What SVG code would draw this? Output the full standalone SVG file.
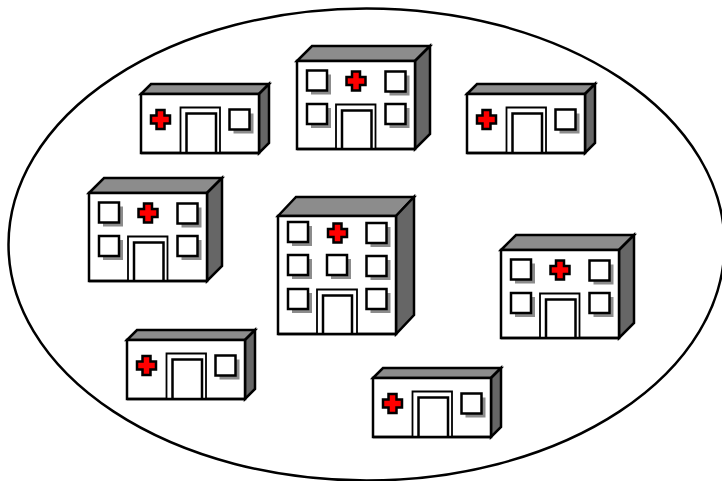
<svg xmlns="http://www.w3.org/2000/svg" xmlns:xlink="http://www.w3.org/1999/xlink" width="722" height="481" viewBox="0 0 722 481">
<style>
.o{stroke:#000;stroke-width:2.500;stroke-linejoin:miter}
.d{stroke:#000;stroke-width:1.800;fill:#fff}
.f{fill:#fff}.t{fill:#8c8c8c}.s{fill:#666}.c{fill:#f00;stroke:#000;stroke-width:2.500}
.sh{fill:#8c8c8c}
</style>
<defs>
<g id="win"><rect class="sh" x="4" y="4" width="20" height="20"/><rect class="f o" width="20" height="20"/></g>
<path id="cross" class="c" d="M-4-9.500H4V-4H9.500V4H4V9.500H-4V4H-9.500V-4H-4Z"/>
<g id="small">
<path class="t o" d="M0 0L10-10H128L118 0Z"/><path class="s o" d="M118 0L128-10V49L118 59Z"/>
<rect class="f o" width="118" height="59"/>
<path class="d" d="M39.500 59V13.500H79V59"/><path class="o f" d="M45.500 59V19.500H75V59"/>
<use href="#win" x="88.500" y="15.500"/><use href="#cross" x="19.500" y="25.500"/>
<path class="o" d="M0 59H118" fill="none"/>
</g>
<g id="medium">
<path class="t o" d="M0 0L15-15H133L118 0Z"/><path class="s o" d="M118 0L133-15V73L118 88Z"/>
<rect class="f o" width="118" height="88"/>
<path class="d" d="M39 88V43.500H78.500V88"/><path class="o f" d="M45 88V49.500H74.500V88"/>
<use href="#win" x="10" y="9.500"/><use href="#win" x="88.500" y="10.500"/><use href="#win" x="10" y="43"/><use href="#win" x="88.500" y="43"/>
<use href="#cross" x="59" y="20"/>
<path class="o" d="M0 88H118" fill="none"/>
</g>
<g id="big">
<path class="t o" d="M0 0L18-19H136L118 0Z"/><path class="s o" d="M118 0L136-19V99L118 118Z"/>
<rect class="f o" width="118" height="118"/>
<path class="d" d="M39 118V73.500H79V118"/><path class="o f" d="M45 118V79.500H74V118"/>
<use href="#win" x="10" y="6"/><use href="#win" x="88.500" y="7"/><use href="#win" x="10" y="39"/><use href="#win" x="49" y="39"/><use href="#win" x="88.500" y="40"/><use href="#win" x="10" y="73"/><use href="#win" x="88.500" y="73"/>
<use href="#cross" x="59.500" y="17"/>
<path class="o" d="M0 118H118" fill="none"/>
</g>
</defs>
<ellipse id="boundary" cx="366.500" cy="244.500" rx="358" ry="236" fill="#fff" stroke="#000" stroke-width="2.500"/>
<g id="hospital-1"><use href="#small" x="141" y="94"/></g>
<g id="hospital-2"><use href="#medium" x="297" y="61"/></g>
<g id="hospital-3"><use href="#small" x="467" y="94"/></g>
<g id="hospital-4"><use href="#medium" x="89" y="193"/></g>
<g id="hospital-5"><use href="#big" x="278" y="216"/></g>
<g id="hospital-6"><use href="#medium" x="501" y="250"/></g>
<g id="hospital-7"><use href="#small" x="127" y="340"/></g>
<g id="hospital-8"><use href="#small" x="373" y="378"/></g>
<g id="connectors"/>
</svg>
